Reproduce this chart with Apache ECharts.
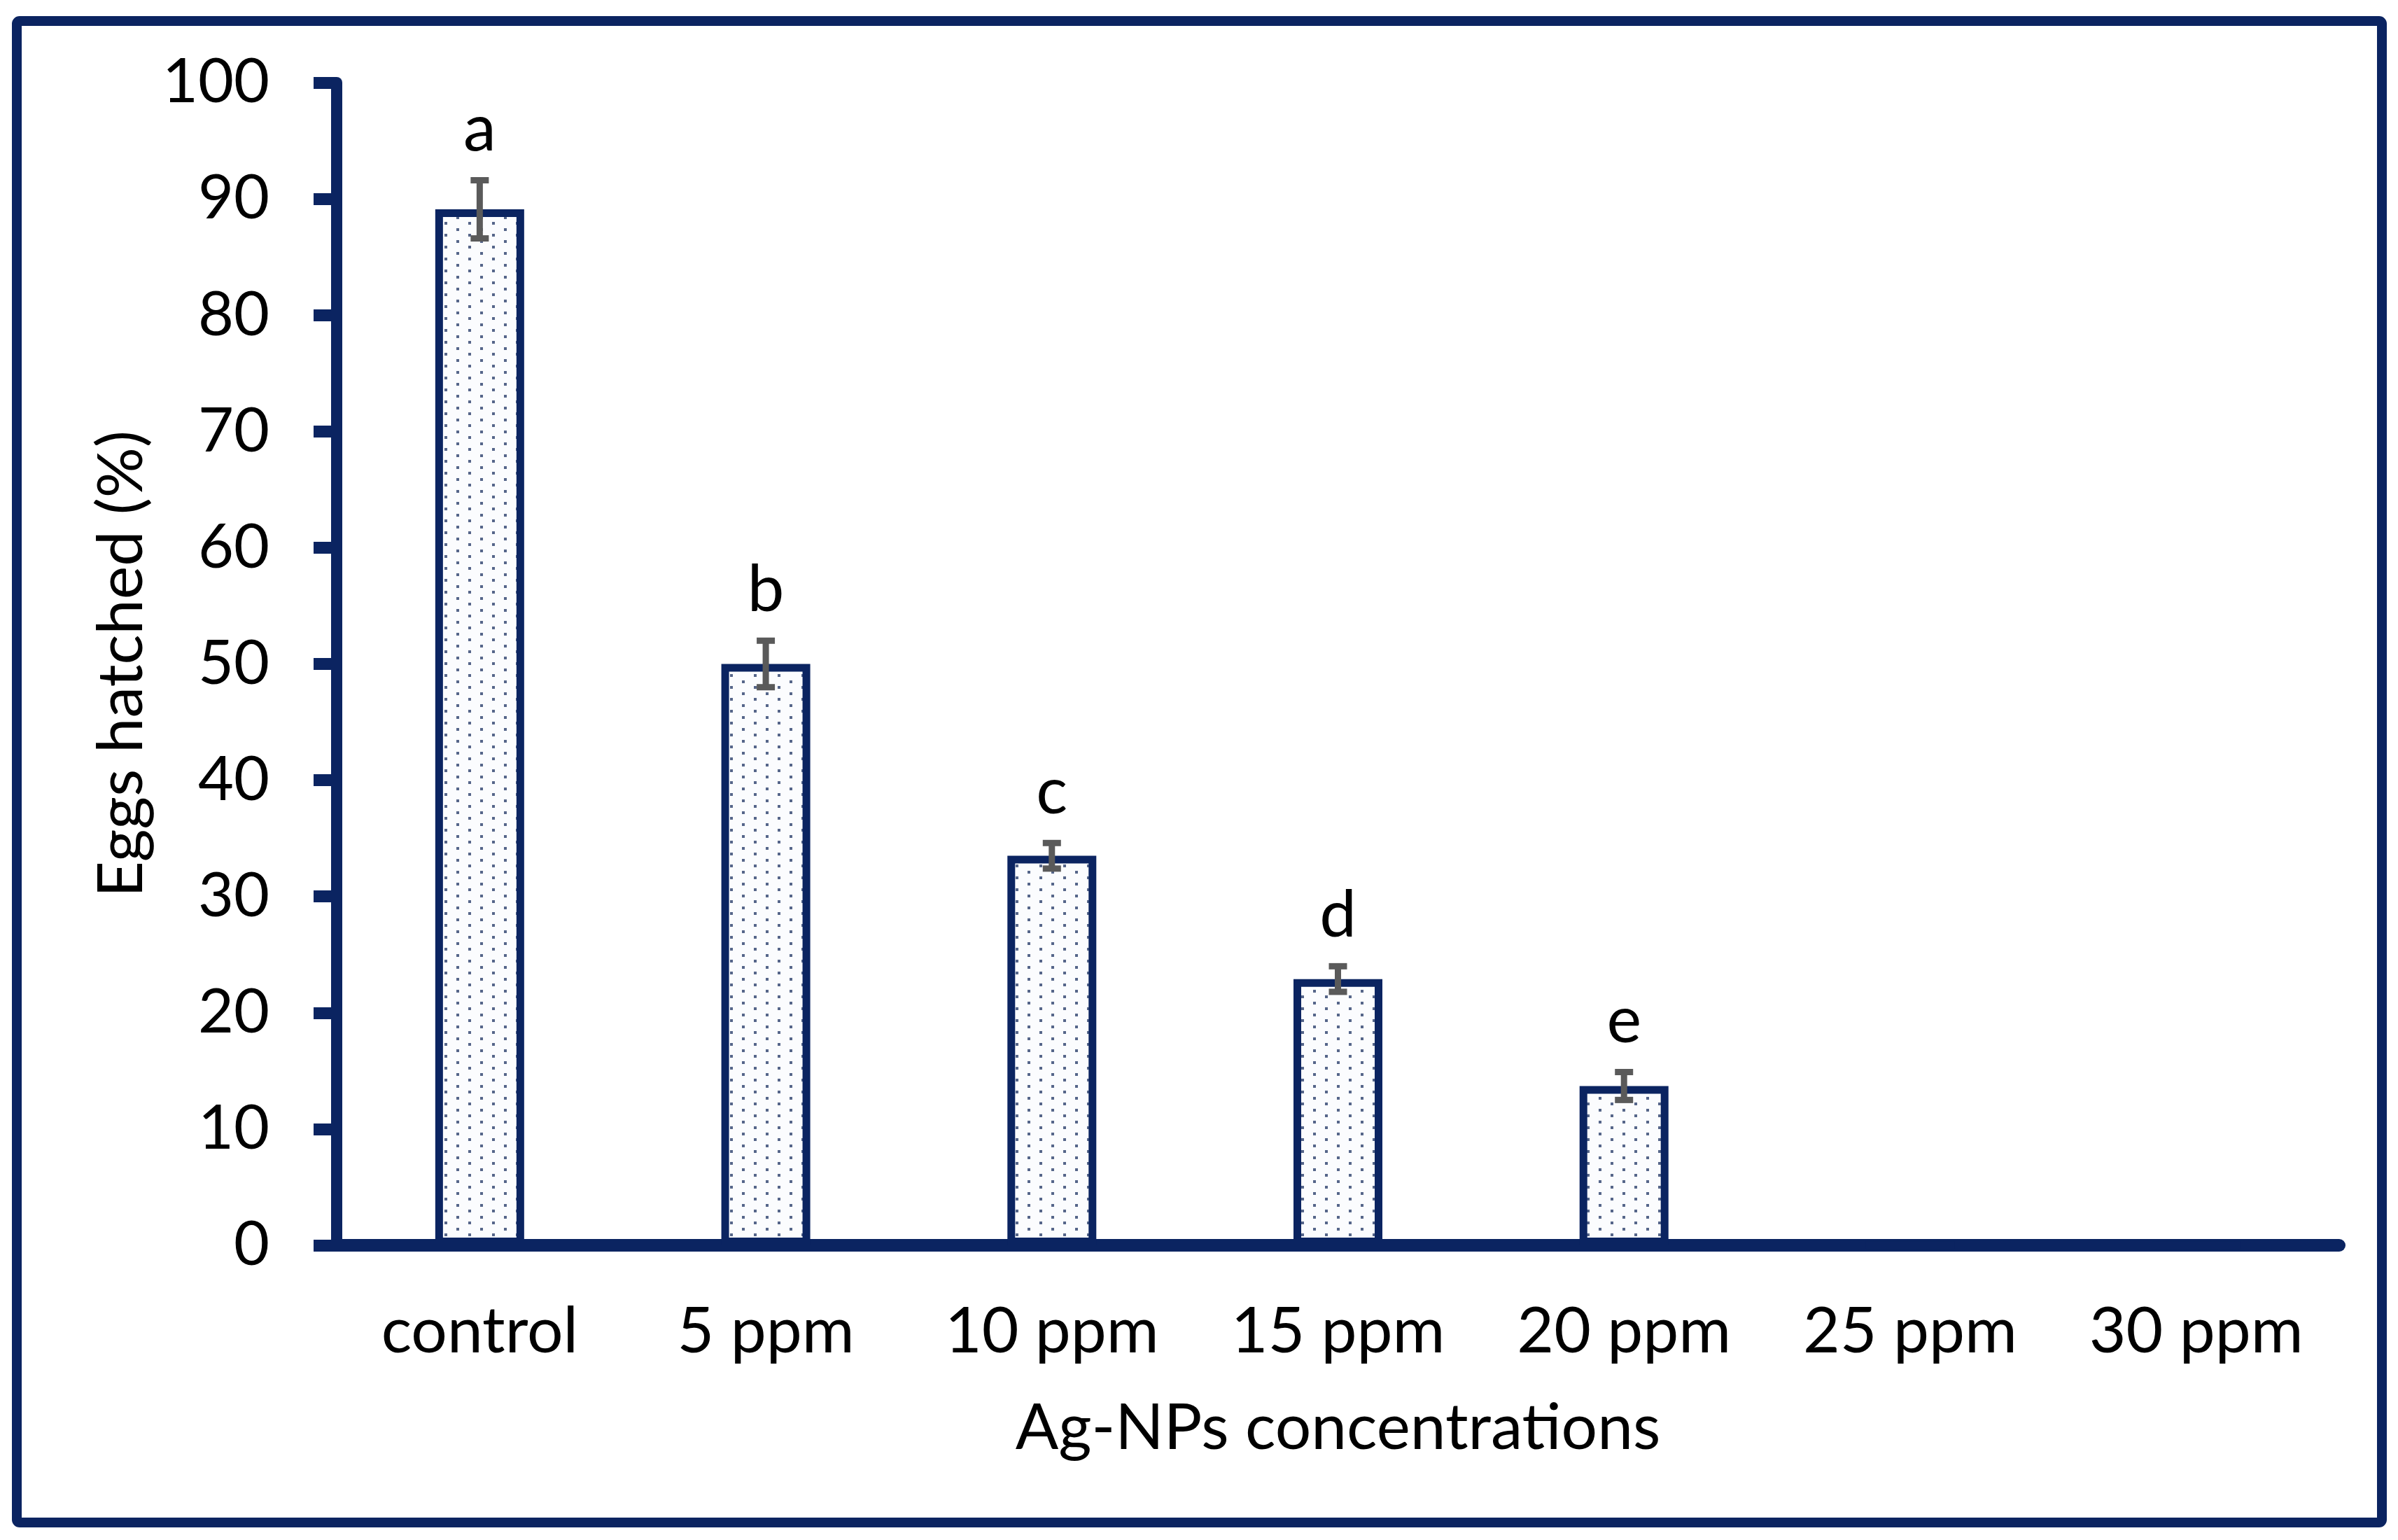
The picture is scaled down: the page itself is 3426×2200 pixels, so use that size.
<!DOCTYPE html>
<html>
<head>
<meta charset="utf-8">
<script src="https://cdn.jsdelivr.net/npm/echarts@6/dist/echarts.min.js"></script>
<style>
html,body{margin:0;padding:0;background:#fff;}
#chart{width:3426px;height:2200px;}
</style>
</head>
<body>
<div id="chart"></div>
<script>
// ---- data ----
var categories = ['control', '5 ppm', '10 ppm', '15 ppm', '20 ppm', '25 ppm', '30 ppm'];
var hatched = [89.1, 50, 33.5, 22.9, 13.7, 0, 0];
var errors = [2.5, 2.0, 1.1, 1.1, 1.2, 0, 0];
var letters = ['a', 'b', 'c', 'd', 'e', '', ''];
var yTicks = [0, 10, 20, 30, 40, 50, 60, 70, 80, 90, 100];

var NAVY = '#0b2461';
var FONT = 'Lato';

// dotted fill pattern
var pat = document.createElement('canvas');
pat.width = 34; pat.height = 17;
var pc = pat.getContext('2d');
pc.fillStyle = '#fbfcfe';
pc.fillRect(0, 0, 34, 17);
pc.fillStyle = '#56668a';
pc.fillRect(6, 3, 4, 4);
pc.fillRect(23, 11, 4, 4);

var errData = [];
for (var i = 0; i < categories.length; i++) {
  if (hatched[i] > 0) errData.push([i, hatched[i], errors[i]]);
}

var chart = echarts.init(document.getElementById('chart'), null, {renderer: 'canvas'});
chart.setOption({
  backgroundColor: '#ffffff',
  animation: false,
  graphic: [{
    type: 'rect',
    shape: {x: 24, y: 30, width: 3379, height: 2145, r: 4},
    style: {fill: 'none', stroke: NAVY, lineWidth: 14},
    z: 100
  }],
  grid: {left: 481, right: 84, top: 118, bottom: 421},
  xAxis: {
    type: 'category',
    data: categories,
    boundaryGap: true,
    axisLine: {lineStyle: {color: NAVY, width: 18}},
    axisTick: {show: false},
    axisLabel: {color: '#000', fontFamily: FONT, fontSize: 91, margin: 78},
    name: 'Ag-NPs concentrations',
    nameLocation: 'middle',
    nameGap: 216,
    nameTextStyle: {color: '#000', fontFamily: FONT, fontSize: 91}
  },
  yAxis: {
    type: 'value',
    min: 0, max: 100, interval: 10,
    splitLine: {show: false},
    axisLine: {show: true, lineStyle: {color: NAVY, width: 16}},
    axisTick: {show: true, length: 33, lineStyle: {color: NAVY, width: 17}},
    axisLabel: {color: '#000', fontFamily: FONT, fontSize: 88, margin: 96,
      formatter: function (v) { return yTicks.indexOf(v) >= 0 ? String(v) : ''; }},
    name: 'Eggs hatched (%)',
    nameLocation: 'middle',
    nameGap: 262,
    nameTextStyle: {color: '#000', fontFamily: FONT, fontSize: 90}
  },
  series: [{
    type: 'bar',
    data: hatched,
    barWidth: 127,
    itemStyle: {
      color: {image: pat, repeat: 'repeat'},
      borderColor: NAVY,
      borderWidth: 11
    },
    z: 2
  }, {
    type: 'custom',
    data: errData,
    z: 5,
    renderItem: function (params, api) {
      var x = api.value(0), v = api.value(1), e = api.value(2);
      var top = api.coord([x, v + e]);
      var bot = api.coord([x, v - e]);
      var half = 13;
      var st = {stroke: '#5a5a5a', lineWidth: 9};
      return {
        type: 'group',
        children: [
          {type: 'line', shape: {x1: top[0], y1: top[1], x2: bot[0], y2: bot[1]}, style: st},
          {type: 'line', shape: {x1: top[0] - half, y1: top[1], x2: top[0] + half, y2: top[1]}, style: st},
          {type: 'line', shape: {x1: bot[0] - half, y1: bot[1], x2: bot[0] + half, y2: bot[1]}, style: st},
          {type: 'text', style: {
            text: letters[x], x: top[0], y: top[1] - 26,
            textAlign: 'center', textVerticalAlign: 'bottom',
            font: '94px ' + FONT, fill: '#000'
          }}
        ]
      };
    }
  }]
});
</script>
</body>
</html>
